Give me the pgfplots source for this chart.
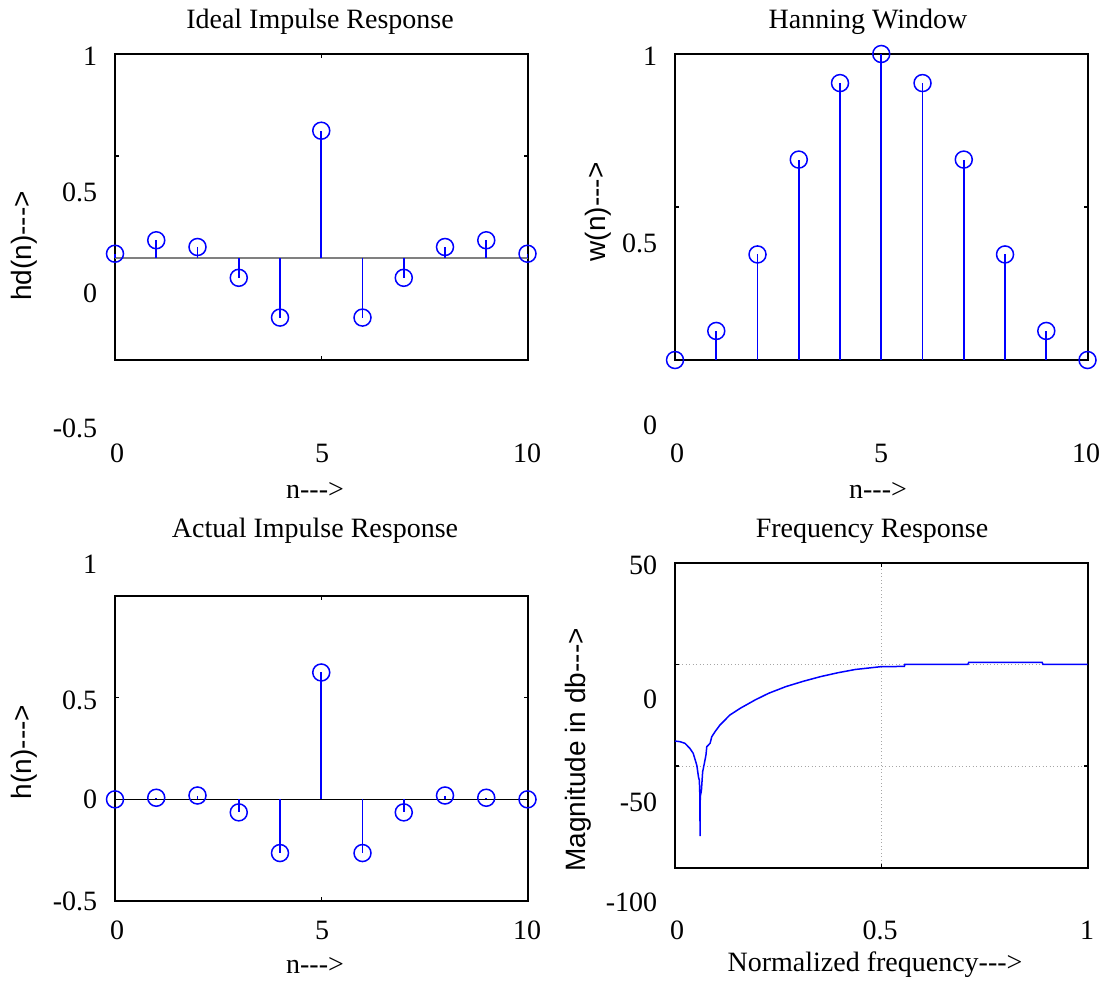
\documentclass[border=0pt]{standalone}
\usepackage{fontspec}
\setmainfont{Liberation Serif}
\newfontfamily\arialfont{Liberation Sans}
\usepackage{pgfplots}
\pgfplotsset{compat=1.18}
\definecolor{mblue}{RGB}{0,0,255}

\pgfplotstableread{
n v
0 0.021
1 0.087
2 0.054
3 -0.097
4 -0.292
5 0.624
6 -0.292
7 -0.097
8 0.054
9 0.087
10 0.021
}\hdtab
\pgfplotstableread{
n v
0 0
1 0.095
2 0.345
3 0.655
4 0.905
5 1
6 0.905
7 0.655
8 0.345
9 0.095
10 0
}\wtab
\pgfplotstableread{
n v
0 0
1 0.008
2 0.019
3 -0.064
4 -0.264
5 0.624
6 -0.264
7 -0.064
8 0.019
9 0.008
10 0
}\htab
\pgfplotstableread{
f db
0 -37.7
0.012 -38.0
0.024 -38.8
0.036 -41.3
0.044 -43.7
0.049 -47.0
0.053 -49.8
0.057 -55.5
0.059 -57
0.0603 -65
0.0607 -84.4
0.0612 -65
0.064 -62
0.067 -52.8
0.070 -49.8
0.075 -44.6
0.077 -40.5
0.085 -38.8
0.089 -35.6
0.097 -33.1
0.109 -29.8
0.133 -24.9
0.158 -21.6
0.194 -17.5
0.227 -14.2
0.269 -10.9
0.311 -8.3
0.353 -6.0
0.395 -4.1
0.437 -2.5
0.5 -1.1
0.556 -1.0
0.557 0
0.71 0
0.712 1
0.89 1
0.892 0
1 0
}\frtab

\pgfplotsset{mystyle/.style={scale only axis, width=165pt, anchor=south west,
  axis line style={line width=0.8pt}, tick align=inside, major tick length=1.6pt,
  tick style={black, line width=0.6pt}, xticklabels={}, yticklabels={}, clip=false},
  stemstyle/.style={mblue, line width=0.7pt, ycomb, mark=o, mark size=3.4pt, mark options={line width=0.6pt}}}

\begin{document}
\begin{tikzpicture}[x=0.4pt,y=-0.4pt, font=\fontsize{11.2}{13}\selectfont]
\path[use as bounding box] (0,0) rectangle (1104,981);

% Top left
\begin{axis}[mystyle, height=122.4pt, at={(46pt,-144pt)}, xmin=0, xmax=10, ymin=-0.5, ymax=1,
  xtick={0,5,10}, ytick={-0.5,0,0.5,1}]
\addplot[gray, line width=0.6pt] coordinates {(0,0) (10,0)};
\addplot[stemstyle] table[x=n,y=v] {\hdtab};
\end{axis}

% Top right
\begin{axis}[mystyle, height=122.4pt, at={(270pt,-144pt)}, xmin=0, xmax=10, ymin=0, ymax=1,
  xtick={0,5,10}, ytick={0,0.5,1}]
\addplot[stemstyle] table[x=n,y=v] {\wtab};
\end{axis}

% Bottom left
\begin{axis}[mystyle, height=122pt, at={(46pt,-360.4pt)}, xmin=0, xmax=10, ymin=-0.5, ymax=1,
  xtick={0,5,10}, ytick={-0.5,0,0.5,1}]
\addplot[black, line width=0.5pt] coordinates {(0,0) (10,0)};
\addplot[stemstyle] table[x=n,y=v] {\htab};
\end{axis}

% Bottom right
\begin{axis}[mystyle, height=122pt, at={(270pt,-347.08pt)}, xmin=0, xmax=1, ymin=-100, ymax=50,
  xtick={0,0.5,1}, ytick={-100,-50,0,50}, grid=major, grid style={gray!70, densely dotted, line width=0.4pt}]
\addplot[mblue, line width=0.6pt] table[x=f,y=db] {\frtab};
\end{axis}

% Titles
\node at (320,22) {Ideal Impulse Response};
\node at (868,22) {Hanning Window};
\node at (315,531) {Actual Impulse Response};
\node at (872,531) {Frequency Response};

% Top-left tick labels
\node[anchor=east] at (106,56) {1};
\node[anchor=east] at (106,192) {0.5};
\node[anchor=east] at (106,293) {0};
\node[anchor=east] at (106,428) {-0.5};
\node at (117,453) {0};
\node at (322,453) {5};
\node at (527,453) {10};
\node at (315,490) {n-{}-{}->};
\node[rotate=90, font=\arialfont\fontsize{11.2}{13}\selectfont] at (24,246) {hd(n)-{}-{}->};

% Top-right tick labels
\node[anchor=east] at (666,56) {1};
\node[anchor=east] at (666,243) {0.5};
\node[anchor=east] at (666,425) {0};
\node at (677,453) {0};
\node at (881,453) {5};
\node at (1086,453) {10};
\node at (878,490) {n-{}-{}->};
\node[rotate=90, font=\arialfont\fontsize{11.2}{13}\selectfont] at (598,212) {w(n)-{}-{}->};

% Bottom-left tick labels
\node[anchor=east] at (106,564) {1};
\node[anchor=east] at (106,700) {0.5};
\node[anchor=east] at (106,799) {0};
\node[anchor=east] at (106,901) {-0.5};
\node at (117,930) {0};
\node at (322,930) {5};
\node at (527,930) {10};
\node at (315,965) {n-{}-{}->};
\node[rotate=90, font=\arialfont\fontsize{11.2}{13}\selectfont] at (24,752) {h(n)-{}-{}->};

% Bottom-right tick labels
\node[anchor=east] at (666,565) {50};
\node[anchor=east] at (666,699) {0};
\node[anchor=east] at (666,802) {-50};
\node[anchor=east] at (666,902) {-100};
\node at (677,930) {0};
\node at (880,930) {0.5};
\node at (1087,930) {1};
\node at (875,965) {Normalized frequency-{}-{}->};
\node[rotate=90, font=\arialfont\fontsize{11.2}{13}\selectfont] at (578,750) {Magnitude in db-{}-{}->};
\end{tikzpicture}
\end{document}
